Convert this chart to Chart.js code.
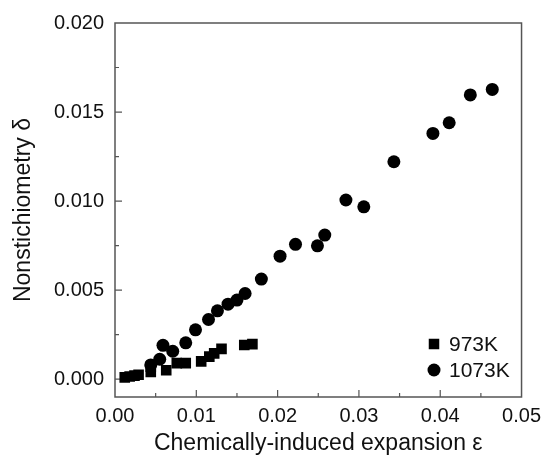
<!DOCTYPE html>
<html>
<head>
<meta charset="utf-8">
<script src="https://cdn.jsdelivr.net/npm/chart.js@4/dist/chart.umd.min.js"></script>
<style>
  html, body { margin: 0; padding: 0; background: #fff; }
  #wrap { width: 548px; height: 459px; }
</style>
</head>
<body>
<div id="wrap"><canvas id="chart" width="548" height="459"></canvas></div>
<script>
// 973K (squares)
const x973 = [0.0012, 0.0018, 0.0024, 0.0029, 0.0044, 0.0044, 0.0063, 0.0076, 0.0087, 0.0106, 0.0116, 0.0122, 0.0131, 0.0159, 0.0169];
const y973 = [0.0001, 0.00015, 0.0002, 0.00025, 0.0004, 0.0007, 0.0005, 0.0009, 0.0009, 0.0010, 0.00127, 0.00145, 0.0017, 0.00192, 0.00197];

// 1073K (circles)
const x1073 = [0.0044, 0.0055, 0.0059, 0.0071, 0.0087, 0.0099, 0.0115, 0.0126, 0.0139, 0.0150, 0.0160, 0.0180, 0.0203, 0.0222, 0.0249, 0.0258, 0.0284, 0.0306, 0.0343, 0.0391, 0.0411, 0.0437, 0.0464];
const y1073 = [0.0008, 0.00112, 0.00190, 0.00157, 0.00204, 0.00277, 0.00335, 0.00384, 0.00421, 0.00444, 0.00481, 0.00562, 0.00691, 0.00757, 0.00749, 0.00809, 0.01006, 0.00968, 0.01221, 0.01380, 0.01440, 0.01596, 0.01627];

const xTicks = [0, 0.01, 0.02, 0.03, 0.04, 0.05];
const xMinor = [0.005, 0.015, 0.025, 0.035, 0.045];
const yTicks = [0, 0.005, 0.010, 0.015, 0.020];
const yMinor = [0.0025, 0.0075, 0.0125, 0.0175];

const seriesNames = ['973K', '1073K'];

const FONT = 'Liberation Sans, Arial, sans-serif';
const frameColor = '#555';

const toPts = (xs, ys) => xs.map((x, i) => ({ x: x, y: ys[i] }));

// frame, inside ticks (major + minor) and in-plot legend
const framePlugin = {
  id: 'frame',
  beforeDatasetsDraw(chart) {
    const { ctx, chartArea: a, scales } = chart;
    ctx.save();
    ctx.strokeStyle = frameColor;
    ctx.lineWidth = 1.5;
    ctx.strokeRect(a.left, a.top, a.right - a.left, a.bottom - a.top);
    ctx.lineWidth = 1.2;
    ctx.beginPath();
    const tick = (vals, len, horiz) => {
      vals.forEach(v => {
        if (horiz) {
          const px = scales.x.getPixelForValue(v);
          ctx.moveTo(px, a.bottom);
          ctx.lineTo(px, a.bottom - len);
        } else {
          const py = scales.y.getPixelForValue(v);
          ctx.moveTo(a.left, py);
          ctx.lineTo(a.left + len, py);
        }
      });
    };
    tick(xTicks.slice(1, -1), 7, true);
    tick(xMinor, 4, true);
    tick(yTicks.slice(0, -1), 7, false);
    tick(yMinor, 4, false);
    ctx.stroke();
    ctx.restore();
  },
  afterDraw(chart) {
    const ctx = chart.ctx;
    ctx.save();
    ctx.fillStyle = '#000';
    const s = 10.5;
    ctx.fillRect(434 - s / 2, 344 - s / 2, s, s);
    ctx.beginPath();
    ctx.arc(434, 370, 6.5, 0, Math.PI * 2);
    ctx.fill();
    ctx.fillStyle = '#111';
    ctx.font = '21px ' + FONT;
    ctx.textBaseline = 'middle';
    ctx.fillText(seriesNames[0], 449, 345);
    ctx.fillText(seriesNames[1], 449, 371);
    ctx.restore();
  }
};

new Chart(document.getElementById('chart'), {
  type: 'scatter',
  data: {
    datasets: [
      {
        label: seriesNames[0],
        data: toPts(x973, y973),
        pointStyle: 'rect',
        pointRadius: 7.5,
        backgroundColor: '#000',
        borderColor: '#000',
        borderWidth: 0
      },
      {
        label: seriesNames[1],
        data: toPts(x1073, y1073),
        pointStyle: 'circle',
        pointRadius: 6.5,
        backgroundColor: '#000',
        borderColor: '#000',
        borderWidth: 0
      }
    ]
  },
  options: {
    responsive: false,
    animation: false,
    events: [],
    layout: { padding: { left: 0, right: 25, top: 23, bottom: 0 } },
    plugins: {
      legend: { display: false },
      tooltip: { enabled: false }
    },
    scales: {
      x: {
        type: 'linear',
        min: 0,
        max: 0.05,
        afterBuildTicks: s => { s.ticks = xTicks.map(v => ({ value: v })); },
        afterFit: s => { s.height = 62; },
        grid: { display: false, drawTicks: false },
        border: { display: false },
        ticks: {
          padding: 7,
          color: '#111',
          font: { family: FONT, size: 20 },
          maxRotation: 0,
          callback: v => v.toFixed(2)
        },
        title: {
          display: true,
          text: 'Chemically-induced expansion ε',
          color: '#111',
          font: { family: FONT, size: 23 },
          padding: { top: 0, bottom: 2 }
        }
      },
      y: {
        type: 'linear',
        min: -0.001,
        max: 0.020,
        afterBuildTicks: s => { s.ticks = yTicks.map(v => ({ value: v })); },
        afterFit: s => { s.width = 115; },
        grid: { display: false, drawTicks: false },
        border: { display: false },
        ticks: {
          padding: 11,
          color: '#111',
          font: { family: FONT, size: 20 },
          callback: v => v.toFixed(3)
        },
        title: {
          display: true,
          text: 'Nonstichiometry δ',
          color: '#111',
          font: { family: FONT, size: 23 },
          padding: { top: 10, bottom: 0 }
        }
      }
    }
  },
  plugins: [framePlugin]
});
</script>
</body>
</html>
